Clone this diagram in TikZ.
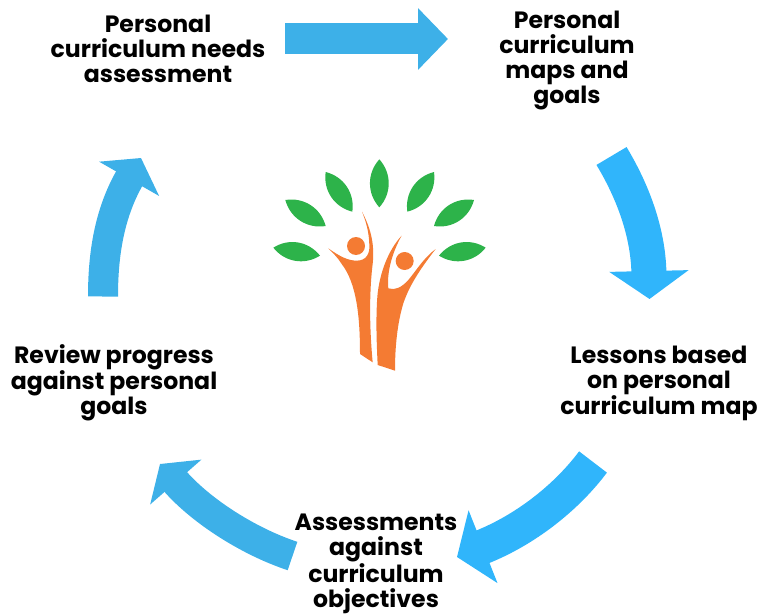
\documentclass[tikz,border=0pt]{standalone}
\usepackage{fontspec}
\setmainfont{Poppins}
\usetikzlibrary{arrows.meta}
\definecolor{darksky}{HTML}{3DB0E8}
\definecolor{lightsky}{HTML}{30B5FB}
\definecolor{leafgreen}{HTML}{2DB34A}
\definecolor{bodyorange}{HTML}{F47B33}
\tikzset{
steptext/.style={align=center, font=\fontsize{23.6}{25}\selectfont\bfseries, text=black, inner sep=0pt}, % the five labels
flow/.style n args={3}{line width=#1pt, -{Triangle[width=#2pt,length=#3pt]}}, % shaft width, head width, head length
leaf/.style={fill=leafgreen, draw=none},
body/.style={fill=bodyorange, draw=none},
}
\begin{document}
\begin{tikzpicture}[x=1pt, y=-1pt]
\useasboundingbox (0,0) rectangle (759,615);
\node[steptext] at (158,48.5) (needs) {Personal\\curriculum needs\\assessment};
\node[steptext] at (567,61) (maps) {Personal\\curriculum\\maps and\\goals};
\node[steptext] at (659,383) (lessons) {Lessons based\\on personal\\curriculum map};
\node[steptext] at (376,564) (assess) {Assessments\\against\\curriculum\\objectives};
\node[steptext] at (114,383) (review) {Review progress\\against personal\\goals};
\coordinate (a1) at (285,39);
\coordinate (b1) at (448,39);
\coordinate (a2) at (611.5,156);
\coordinate (b2) at (649.5,299);
\coordinate (a3) at (593,462);
\coordinate (b3) at (457,557);
\coordinate (a4) at (292.5,556);
\coordinate (b4) at (160,464);
\coordinate (a5) at (103,296.5);
\coordinate (b5) at (141,158);
\draw[flow={31}{60}{30}, darksky] (a1) -- (b1);
\draw[flow={35}{78}{28}, lightsky] (a2) .. controls (632,190) and (648,231) .. (b2);
\draw[flow={35}{77}{28}, lightsky] (a3) .. controls (566,498) and (525,530) .. (b3);
\draw[flow={30}{67}{24}, darksky] (a4) .. controls (250,542) and (202,512) .. (b4);
\draw[flow={30}{68}{24}, darksky] (a5) .. controls (103,255) and (109,214) .. (b5);
% logo, in the pixels of a 3x crop
\begin{scope}[xshift=260pt, yshift=-150pt, scale=1/3]
\foreach \xa/\ya/\xb/\yb in {358/28/358/172, 197/66/277/185, 522/66/442/185, 76/150/197/228, 642/150/522/228, 40/293/180/317, 677/293/537/317}
  \fill[leaf] (\xa,\ya) to[bend left=42] (\xb,\yb) to[bend left=42] (\xa,\ya);
\fill[body] (288,288) circle (27);
\fill[body] (434,333) circle (27);
\fill[body] (306,185) .. controls (335,240) and (345,290) .. (337,350) .. controls (328,430) and (328,530) .. (338,637)
  -- (300,612) .. controls (300,500) and (290,400) .. (245,342) .. controls (235,325) and (220,310) .. (205,295)
  .. controls (240,320) and (265,332) .. (290,332) .. controls (318,332) and (330,312) .. (328,285) .. controls (327,245) and (318,215) .. (306,185) -- cycle;
\fill[body] (425,257) .. controls (385,300) and (358,370) .. (352,440) .. controls (347,510) and (350,580) .. (353,645)
  -- (405,662) .. controls (405,590) and (412,520) .. (430,460) .. controls (450,400) and (490,345) .. (527,297)
  .. controls (490,325) and (470,360) .. (445,390) .. controls (425,412) and (405,422) .. (385,415) .. controls (380,370) and (395,310) .. (425,257) -- cycle;
\end{scope}
\end{tikzpicture}
\end{document}
